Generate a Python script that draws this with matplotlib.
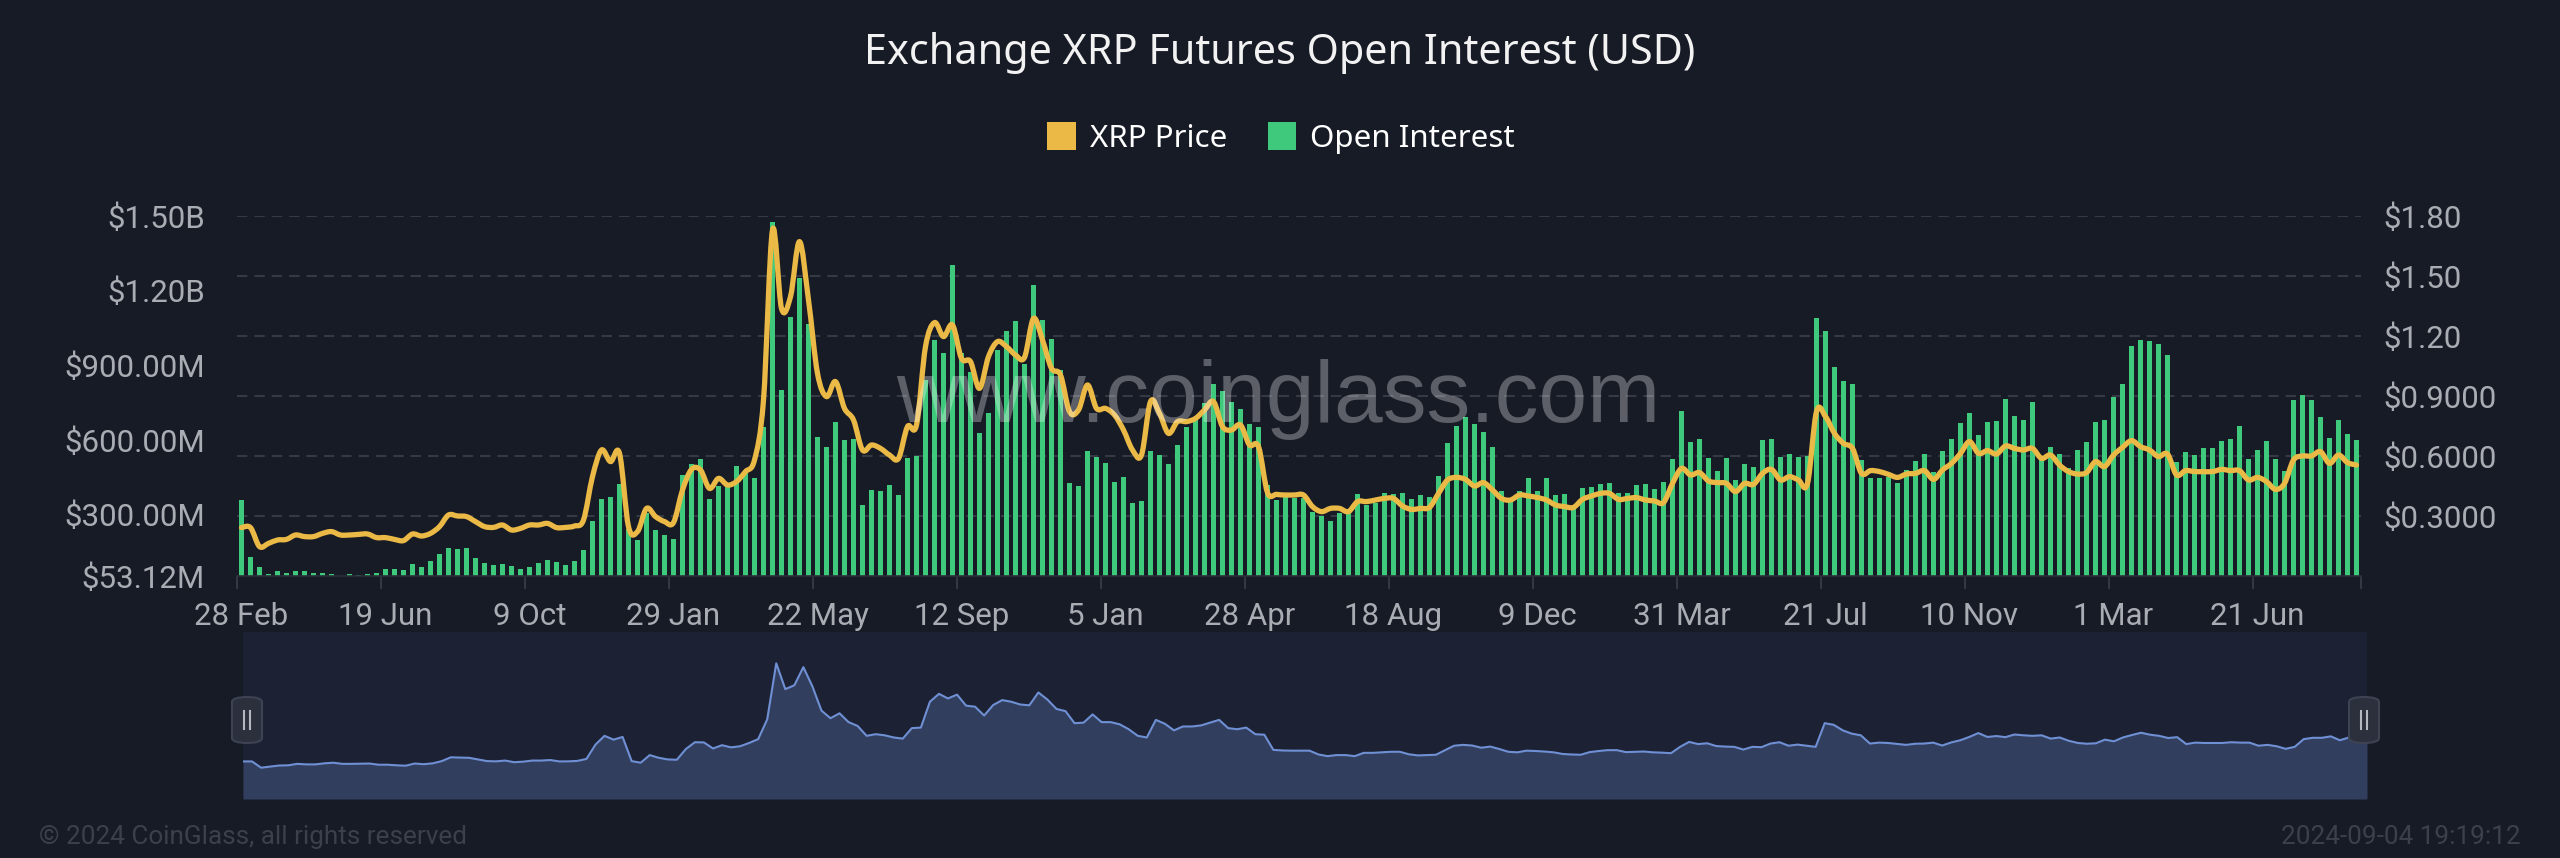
import numpy as np
import matplotlib
matplotlib.use("Agg")
import matplotlib.pyplot as plt
from matplotlib.path import Path
from matplotlib.patches import PathPatch, FancyBboxPatch, Rectangle
from matplotlib.lines import Line2D

# ---------------- data ----------------
title = "Exchange XRP Futures Open Interest (USD)"
tick_labels = ["28 Feb", "19 Jun", "9 Oct", "29 Jan", "22 May", "12 Sep", "5 Jan",
               "28 Apr", "18 Aug", "9 Dec", "31 Mar", "21 Jul", "10 Nov", "1 Mar", "21 Jun"]
label_step = 16

# weekly open interest, millions of USD
open_interest_m = [
    358, 128, 91, 61, 75, 66, 75, 73, 66, 65, 61, 55, 61, 58, 62, 65, 80, 83, 76, 100,
    91, 115, 140, 166, 160, 164, 124, 107, 97, 100, 95, 80, 91, 107, 117, 111, 99, 113, 158, 275,
    361, 372, 423, 242, 198, 305, 238, 216,
    200, 459, 503, 523, 361, 415, 415, 497, 466, 446, 650, 1477, 801, 1093, 1250, 1066, 610, 573, 673, 600,
    604, 338, 399, 395, 417, 380, 526, 535, 841, 1000, 950, 1303, 950, 874, 629, 707, 961, 1038, 1078, 904,
    1223, 1082, 1004, 881, 428, 415, 557, 530,
    506, 432, 452, 345, 355, 556, 540, 502, 580, 653, 687, 750, 825, 797, 751, 723, 664, 653, 419, 358,
    375, 368, 365, 312, 294, 275, 305, 312, 381, 338, 348, 388, 383, 385, 361, 379, 372, 456, 589, 656,
    693, 664, 633, 573, 396, 352, 396, 446,
    396, 448, 379, 383, 332, 405, 412, 422, 428, 385, 388, 419, 423, 403, 430, 522, 716, 593, 605, 526,
    476, 527, 439, 503, 493, 600, 603, 533, 543, 530, 535, 1089, 1039, 892, 837, 823, 519, 448, 448, 452,
    428, 479, 517, 542, 472, 557, 604, 669,
    707, 620, 673, 676, 763, 698, 681, 751, 533, 573, 542, 488, 559, 592, 673, 679, 771, 823, 979, 1002,
    996, 984, 943, 511, 551, 541, 566, 567, 597, 604, 656, 522, 561, 597, 523, 476, 761, 781, 761, 693,
    609, 680, 623, 600,
]

# weekly XRP price, USD
xrp_price = [
    0.242, 0.242, 0.147, 0.163, 0.180, 0.183, 0.205, 0.197, 0.197, 0.213, 0.222, 0.205, 0.205, 0.208, 0.210, 0.192,
    0.192, 0.183, 0.177, 0.210, 0.200, 0.213, 0.247, 0.305, 0.300, 0.297, 0.272, 0.247, 0.243, 0.255, 0.230, 0.238,
    0.255, 0.255, 0.263, 0.242, 0.243, 0.250, 0.280, 0.497, 0.630, 0.572, 0.613, 0.247, 0.222, 0.338, 0.297, 0.272,
    0.267, 0.430, 0.533, 0.530, 0.438, 0.488, 0.455, 0.472, 0.522, 0.580, 0.880, 1.730, 1.338, 1.397, 1.672, 1.380,
    1.013, 0.897, 0.972, 0.838, 0.780, 0.630, 0.655, 0.638, 0.605, 0.588, 0.747, 0.755, 1.147, 1.267, 1.197, 1.255,
    1.088, 1.072, 0.938, 1.097, 1.172, 1.147, 1.105, 1.093, 1.288, 1.180, 1.038, 1.005, 0.822, 0.830, 0.955, 0.838,
    0.838, 0.805, 0.730, 0.630, 0.605, 0.872, 0.813, 0.713, 0.772, 0.772, 0.788, 0.830, 0.872, 0.747, 0.730, 0.755,
    0.655, 0.647, 0.417, 0.408, 0.405, 0.405, 0.405, 0.347, 0.322, 0.338, 0.338, 0.322, 0.372, 0.372, 0.380, 0.388,
    0.388, 0.350, 0.333, 0.338, 0.343, 0.413, 0.480, 0.493, 0.483, 0.450, 0.467, 0.430, 0.388, 0.380, 0.405, 0.400,
    0.392, 0.380, 0.355, 0.347, 0.343, 0.383, 0.400, 0.413, 0.413, 0.383, 0.388, 0.392, 0.380, 0.375, 0.367, 0.463,
    0.538, 0.505, 0.517, 0.475, 0.467, 0.463, 0.422, 0.463, 0.458, 0.513, 0.533, 0.480, 0.497, 0.480, 0.463, 0.822,
    0.797, 0.713, 0.663, 0.638, 0.513, 0.527, 0.522, 0.508, 0.493, 0.510, 0.513, 0.527, 0.483, 0.530, 0.563, 0.613,
    0.672, 0.613, 0.627, 0.610, 0.650, 0.638, 0.630, 0.638, 0.588, 0.605, 0.555, 0.522, 0.510, 0.517, 0.572, 0.547,
    0.605, 0.643, 0.677, 0.647, 0.630, 0.597, 0.610, 0.505, 0.527, 0.522, 0.522, 0.522, 0.533, 0.527, 0.527, 0.480,
    0.493, 0.472, 0.433, 0.463, 0.580, 0.600, 0.600, 0.622, 0.563, 0.605, 0.567, 0.555,
]

oi_ticks_m = [53.12, 300, 600, 900, 1200, 1500]
price_ticks = [0.3, 0.6, 0.9, 1.2, 1.5, 1.8]

# ---------------- style ----------------
BG = "#171b26"
GREEN = "#3ec97c"
YELLOW = "#eab946"
GRID = "#353944"
TICK = "#a9acb2"
FONT = ["Roboto", "DejaVu Sans"]
HEAD = ["Noto Sans", "DejaVu Sans"]
plt.rcParams["font.family"] = FONT
plt.rcParams["lines.scale_dashes"] = False

W, H = 2560, 858
fig = plt.figure(figsize=(W / 100, H / 100), dpi=100, facecolor=BG)

n = len(open_interest_m)
x = np.arange(n)
rect = [237 / W, (H - 576) / H, (2361 - 237) / W, 360 / H]

# grid / right axis (price scale)
axg = fig.add_axes(rect)
axg.set_facecolor(BG)
axg.set_xlim(-0.5, n - 0.5)
axg.set_ylim(0, 1.8)
axg.set_yticks(price_ticks)
axg.set_yticklabels([f"${v:.2f}" if v >= 1 else f"${v:.4f}" for v in price_ticks])
axg.yaxis.tick_right()
axg.tick_params(axis="y", length=0, pad=16, labelsize=22.5, labelcolor=TICK)
axg.tick_params(axis="x", length=0, labelbottom=False)
axg.grid(axis="y", color=GRID, linewidth=1.5, linestyle=(0, (7.5, 5)))
axg.grid(axis="x", visible=False)
for s in axg.spines.values():
    s.set_visible(False)

# bars (left axis)
ax = fig.add_axes(rect, sharex=axg)
ax.patch.set_alpha(0)
ax.bar(x, open_interest_m, width=0.66, color=GREEN, zorder=2)
ax.set_ylim(oi_ticks_m[0], oi_ticks_m[-1])
ax.set_yticks(oi_ticks_m)
ax.set_yticklabels([f"${v/1000:.2f}B" if v >= 1000 else f"${v:.2f}M" for v in oi_ticks_m])
ax.tick_params(axis="y", length=0, pad=23, labelsize=22.5, labelcolor=TICK)
ax.set_xticks(x[::label_step])
ax.set_xticklabels(tick_labels)
ax.set_xticks(list(x[::label_step] - 0.5) + [n - 0.5], minor=True)
ax.tick_params(axis="x", which="major", length=0, pad=19, labelsize=22.5, labelcolor=TICK)
ax.tick_params(axis="x", which="minor", length=9, width=1.2, color="#3a3e48")
for k, s in ax.spines.items():
    s.set_visible(k == "bottom")
ax.spines["bottom"].set_color("#2c303a")
ax.spines["bottom"].set_linewidth(1.2)

# price line (smoothed bezier through the data points)
axl = ax.twinx()
axl.set_ylim(0, 1.8)
axl.set_yticks([])
for s in axl.spines.values():
    s.set_visible(False)
py = np.asarray(xrp_price, float)
pts = np.column_stack([x, py])
verts = [pts[0]]
codes = [Path.MOVETO]
k = 1.0 / 6.0
for i in range(n - 1):
    p0 = pts[i - 1] if i > 0 else pts[i]
    p1, p2 = pts[i], pts[i + 1]
    p3 = pts[i + 2] if i + 2 < n else pts[i + 1]
    c1 = p1 + (p2 - p0) * k
    c2 = p2 - (p3 - p1) * k
    verts += [c1, c2, p2]
    codes += [Path.CURVE4] * 3
axl.add_patch(PathPatch(Path(verts, codes), facecolor="none", edgecolor=YELLOW,
                        linewidth=3.8, capstyle="round", joinstyle="round", zorder=3))

# title and legend
fig.text(0.5, 1 - 53 / H, title, ha="center", va="center", fontsize=29.8,
         color="#f2f2f2", family=HEAD)
handles = [Rectangle((0, 0), 1, 1, facecolor=YELLOW, edgecolor="none"),
           Rectangle((0, 0), 1, 1, facecolor=GREEN, edgecolor="none")]
leg = fig.legend(handles, ["XRP Price", "Open Interest"], loc="center",
                 bbox_to_anchor=(1281 / W, 1 - 138 / H), ncol=2, frameon=False,
                 prop={"family": HEAD, "size": 22.5}, handlelength=0.92, handleheight=0.98,
                 handletextpad=0.45, columnspacing=1.3, labelcolor="#ffffff")

# watermark
fig.text(1278 / W, 1 - 400 / H, "www.coinglass.com", ha="center", va="center",
         fontsize=63, color="white", alpha=0.3, family=["Liberation Sans", "DejaVu Sans"], zorder=10)

# data-zoom slider with price shadow
axs = fig.add_axes([243 / W, (H - 799) / H, (2367 - 243) / W, 167 / H])
axs.set_facecolor("#1c2133")
pr = py.max() - py.min()
lo, hi = py.min() - 0.3 * pr, py.max() + 0.3 * pr
axs.set_xlim(0, n - 1)
axs.set_ylim(lo, hi)
axs.fill_between(x, lo, py, color="#323e5d", linewidth=0)
axs.plot(x, py, color="#6f90d4", linewidth=1.5)
axs.set_xticks([])
axs.set_yticks([])
for s in axs.spines.values():
    s.set_visible(False)

for cx in (247, 2364):
    hw, hh = 30, 46
    fig.add_artist(FancyBboxPatch(((cx - hw / 2) / W, (H - 720 - hh / 2) / H), hw / W, hh / H,
                                  boxstyle="round,pad=0,rounding_size=0.006",
                                  transform=fig.transFigure, facecolor="#2b303c",
                                  edgecolor="#3d4352", linewidth=1.5, zorder=5))
    for dx in (-3, 3):
        fig.add_artist(Line2D([(cx + dx) / W] * 2, [(H - 729) / H, (H - 711) / H],
                              transform=fig.transFigure, color="#b5b8be", linewidth=1.5, zorder=6))

# footer
fig.text(39 / W, 1 - 837 / H, "© 2024 CoinGlass, all rights reserved", ha="left", va="center",
         fontsize=18.8, color="#3b404b")
fig.text(2521 / W, 1 - 837 / H, "2024-09-04 19:19:12", ha="right", va="center",
         fontsize=18.8, color="#3b404b")

fig.savefig("out.png", dpi=100, facecolor=BG)
